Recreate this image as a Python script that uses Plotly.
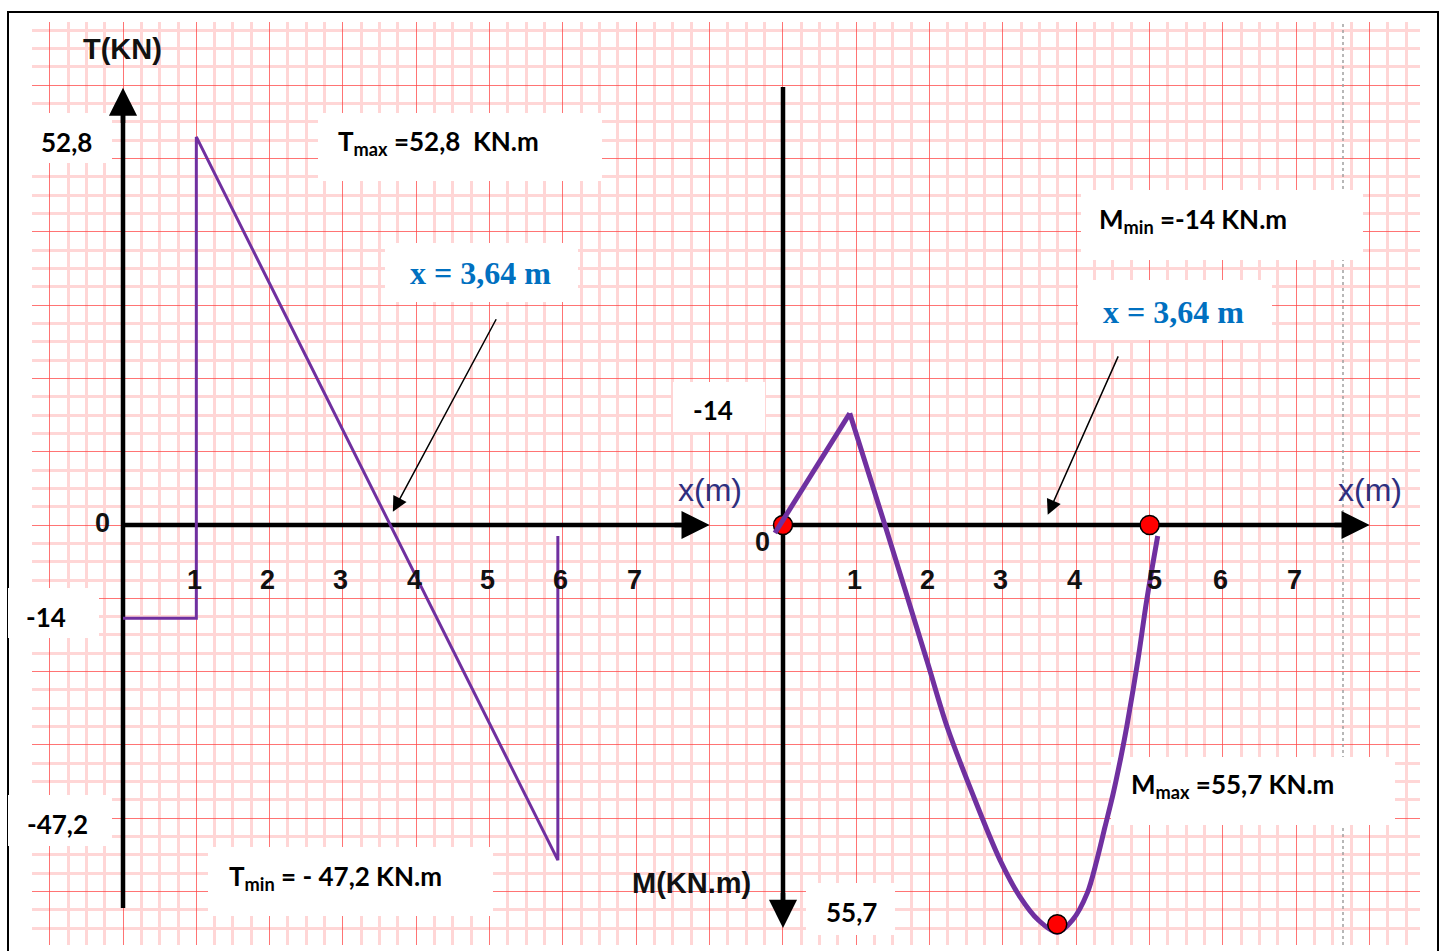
import plotly.graph_objects as go

# ---------------- data ----------------
# Shear force diagram T(x)  [x in m, T in kN]
t_x = [0.0, 1.0, 1.0, 5.93, 5.93]
t_val = [-12.7, -12.7, 52.8, -45.6, -1.5]

# Bending moment diagram M(x)  [x in m, M in kN.m, axis positive downwards]
m_x_line = [-0.11, 0.91]
m_val_line = [1.1, -15.3]
m_x_curve = [0.91, 1.39, 1.96, 2.24, 2.58, 2.96, 3.23, 3.48, 3.74, 3.95, 4.15, 4.28, 4.39, 4.50,
             4.61, 4.69, 4.84, 4.96, 5.11]
m_val_curve = [-15.3, 0.0, 18.5, 27.7, 36.7, 45.9, 50.9, 54.1, 55.8, 54.1, 50.4, 45.9, 41.4, 36.9,
               31.7, 27.5, 18.5, 10.3, 1.5]
m_dot_x = [0.0, 5.0, 3.74]
m_dot_val = [0.0, 0.0, 54.7]

tick_labels = ["1", "2", "3", "4", "5", "6", "7"]
t_tick_pos = [1, 2, 3, 4, 5, 6, 7]
m_tick_pos = [1, 2, 3, 4, 5.1, 6, 7]

t_axis_x = [0.0, 8.0]       # horizontal T axis extent (m)
t_axis_t = [-52.1, 59.5]    # vertical T axis extent (kN)
m_axis_x = [0.0, 8.0]       # horizontal M axis extent (m)
m_axis_m = [-60.0, 55.2]    # vertical M axis extent (kN.m)

t_root_arrow = dict(tail=(5.10, 28.2), tip=(3.68, 1.8))
m_root_arrow = dict(tail=(4.58, -23.3), tip=(3.61, -1.4))

# ---------------- layout constants ----------------
W, H = 1444, 951
ML, MR, MT, MB = 32, 24, 22, 6
U = 73.33          # px per grid square (1 m)
X0T, X0M, Y0 = 123, 783, 525
ST, SM = 7.35, 7.3  # px per kN / per kN.m
PW, PH = W - ML - MR, H - MT - MB

PURPLE = "#7030A0"
BLUE = "#0070C0"
NAVY = "#2f2f7f"
SANS = "Liberation Sans"
CAL = "Lato"
SERIF = "Liberation Serif"


def gx(px):
    return (px - X0T) / U


def gy(py):
    return (Y0 - py) / U


def px_paper(px):
    return (px - ML) / PW


def py_paper(py):
    return (H - MB - py) / PH


fig = go.Figure()

# axis lines (drawn as traces so the diagrams sit on top)
fig.add_trace(go.Scatter(x=[t_axis_x[0], t_axis_x[1] - 0.3], y=[0, 0], xaxis="x", yaxis="y2",
                         mode="lines", line=dict(color="black", width=4.5), hoverinfo="skip"))
fig.add_trace(go.Scatter(x=[0, 0], y=[t_axis_t[0], t_axis_t[1] - 3], xaxis="x", yaxis="y2",
                         mode="lines", line=dict(color="black", width=4.5), hoverinfo="skip"))
fig.add_trace(go.Scatter(x=[m_axis_x[0], m_axis_x[1] - 0.3], y=[0, 0], xaxis="x2", yaxis="y3",
                         mode="lines", line=dict(color="black", width=4.5), hoverinfo="skip"))
fig.add_trace(go.Scatter(x=[0, 0], y=[m_axis_m[0], m_axis_m[1] - 3], xaxis="x2", yaxis="y3",
                         mode="lines", line=dict(color="black", width=4.5), hoverinfo="skip"))

# T diagram
fig.add_trace(go.Scatter(x=t_x, y=t_val, xaxis="x", yaxis="y2", mode="lines",
                         line=dict(color=PURPLE, width=3), hoverinfo="skip", cliponaxis=False))
# origin dot of M diagram (under the curve)
fig.add_trace(go.Scatter(x=m_dot_x[:1], y=m_dot_val[:1], xaxis="x2", yaxis="y3", mode="markers",
                         marker=dict(color="#ff0000", size=19, line=dict(color="black", width=1.5)),
                         hoverinfo="skip", cliponaxis=False))
# M diagram
fig.add_trace(go.Scatter(x=m_x_line, y=m_val_line, xaxis="x2", yaxis="y3", mode="lines",
                         line=dict(color=PURPLE, width=5), hoverinfo="skip"))
fig.add_trace(go.Scatter(x=m_x_curve, y=m_val_curve, xaxis="x2", yaxis="y3", mode="lines",
                         line=dict(color=PURPLE, width=5, shape="spline", smoothing=0.9),
                         hoverinfo="skip"))
fig.add_trace(go.Scatter(x=m_dot_x[1:], y=m_dot_val[1:], xaxis="x2", yaxis="y3", mode="markers",
                         marker=dict(color="#ff0000", size=19, line=dict(color="black", width=1.5)),
                         hoverinfo="skip", cliponaxis=False))

shapes = []
# outer frame
shapes.append(dict(type="rect", xref="paper", yref="paper",
                   x0=px_paper(8), x1=px_paper(1438), y0=py_paper(960), y1=py_paper(12),
                   line=dict(color="black", width=2), fillcolor="rgba(0,0,0,0)", layer="above"))
# dashed guide line
shapes.append(dict(type="line", xref="x", yref="y", x0=gx(1343), x1=gx(1343), y0=gy(945), y1=gy(22),
                   line=dict(color="#a0a0a0", width=1.5, dash="dot"), layer="between"))


def box(x0, y0, x1, y1, layer="between"):
    if layer == "between":
        shapes.append(dict(type="rect", xref="x", yref="y", x0=gx(x0), x1=gx(x1), y0=gy(y1), y1=gy(y0),
                           line=dict(width=0), fillcolor="white", layer="between"))
    else:
        shapes.append(dict(type="rect", xref="paper", yref="paper", x0=px_paper(x0), x1=px_paper(x1),
                           y0=py_paper(y1), y1=py_paper(y0), line=dict(width=0), fillcolor="white",
                           layer="above"))


box(32, 113, 112, 163)
box(318, 113, 602, 181)
box(385, 243, 578, 302)
box(8, 588, 99, 638, layer="above")
box(8, 795, 112, 846, layer="above")
box(208, 847, 493, 916)
box(673, 382, 765, 432)
box(806, 883, 895, 935)
box(1081, 190, 1363, 260)
box(1078, 280, 1272, 340)
box(1111, 757, 1395, 825)

ann = []


def txt(px, py, text, size, family, color="black", xanchor="center", bold=True):
    ann.append(dict(x=gx(px), y=gy(py), xref="x", yref="y", text=text, showarrow=False,
                    xanchor=xanchor, yanchor="middle",
                    font=dict(size=size, family=family, color=color,
                              weight="bold" if bold else "normal")))


txt(122, 49, "T(KN)", 29, SANS, "#111")
txt(66, 142, "52,8", 26, CAL)
txt(336, 142, "T<sub>max</sub> =52,8&nbsp; KN.m", 26, CAL, xanchor="left")
txt(480, 273, "x = 3,64 m", 32, SERIF, BLUE)
txt(102, 523, "0", 27, SANS, "#111")
txt(46, 617, "-14", 26, CAL)
txt(57, 824, "-47,2", 26, CAL)
txt(227, 877, "T<sub>min</sub> = - 47,2 KN.m", 26, CAL, xanchor="left")
txt(710, 490, "x(m)", 32, SANS, NAVY, bold=False)
txt(713, 410, "-14", 26, CAL)
txt(762, 542, "0", 27, SANS, "#111")
txt(691, 883, "M(KN.m)", 29, SANS, "#111")
txt(851, 912, "55,7", 26, CAL)
txt(1097, 220, "M<sub>min</sub> =-14 KN.m", 26, CAL, xanchor="left")
txt(1173, 312, "x = 3,64 m", 32, SERIF, BLUE)
txt(1129, 785, "M<sub>max</sub> =55,7 KN.m", 26, CAL, xanchor="left")
txt(1370, 490, "x(m)", 32, SANS, NAVY, bold=False)

# tick numbers
for lab, p in zip(tick_labels, t_tick_pos):
    ann.append(dict(x=p, y=(Y0 - 580) / ST, xref="x", yref="y2", text=lab, showarrow=False,
                    xshift=-2, font=dict(size=27, family=SANS, color="#111", weight="bold")))
for lab, p in zip(tick_labels, m_tick_pos):
    ann.append(dict(x=p, y=(580 - Y0) / SM, xref="x2", yref="y3", text=lab, showarrow=False,
                    xshift=-2, font=dict(size=27, family=SANS, color="#111", weight="bold")))

# axis arrowheads (filled)
head = dict(text="", showarrow=True, arrowhead=2, arrowwidth=4.5, arrowsize=1.25, arrowcolor="black")
ann.append(dict(x=t_axis_x[1], y=0, ax=t_axis_x[1] - 0.5, ay=0, xref="x", yref="y2", axref="x", ayref="y2",
                **head))
ann.append(dict(x=0, y=t_axis_t[1], ax=0, ay=t_axis_t[1] - 5, xref="x", yref="y2", axref="x", ayref="y2",
                **head))
ann.append(dict(x=m_axis_x[1], y=0, ax=m_axis_x[1] - 0.5, ay=0, xref="x2", yref="y3", axref="x2", ayref="y3",
                **head))
ann.append(dict(x=0, y=m_axis_m[1], ax=0, ay=m_axis_m[1] - 5, xref="x2", yref="y3", axref="x2", ayref="y3",
                **head))

# pointer arrows to x = 3,64 m
ann.append(dict(x=t_root_arrow["tip"][0], y=t_root_arrow["tip"][1],
                ax=t_root_arrow["tail"][0], ay=t_root_arrow["tail"][1],
                xref="x", yref="y2", axref="x", ayref="y2", text="", showarrow=True,
                arrowhead=2, arrowwidth=1.5, arrowsize=2, arrowcolor="black"))
ann.append(dict(x=m_root_arrow["tip"][0], y=m_root_arrow["tip"][1],
                ax=m_root_arrow["tail"][0], ay=m_root_arrow["tail"][1],
                xref="x2", yref="y3", axref="x2", ayref="y3", text="", showarrow=True,
                arrowhead=2, arrowwidth=1.5, arrowsize=2, arrowcolor="black"))

grid_axis = dict(showgrid=True, dtick=1, tick0=0, gridcolor="rgba(255,70,70,0.75)", gridwidth=1.2,
                 minor=dict(showgrid=True, dtick=0.25, tick0=0, gridcolor="#ffd6d6", gridwidth=2.5),
                 zeroline=False, showticklabels=False, ticks="", showline=False, fixedrange=True)

fig.update_layout(
    width=W, height=H, autosize=False,
    margin=dict(l=ML, r=MR, t=MT, b=MB, pad=0),
    paper_bgcolor="white", plot_bgcolor="white",
    showlegend=False,
    xaxis=dict(range=[(ML - X0T) / U, (W - MR - X0T) / U], **grid_axis),
    yaxis=dict(range=[-(H - MB - Y0) / U, (Y0 - MT) / U], **grid_axis),
    yaxis2=dict(range=[-(H - MB - Y0) / ST, (Y0 - MT) / ST], overlaying="y", anchor="x",
                visible=False, fixedrange=True),
    xaxis2=dict(range=[(ML - X0M) / U, (W - MR - X0M) / U], overlaying="x", anchor="y",
                visible=False, fixedrange=True),
    yaxis3=dict(range=[(H - MB - Y0) / SM, -(Y0 - MT) / SM], overlaying="y", anchor="x",
                visible=False, fixedrange=True),
    shapes=shapes,
    annotations=ann,
)

fig.write_html("out.html", config={"displayModeBar": False},
               post_script="document.body.style.margin='0';document.body.style.overflow='hidden';")
